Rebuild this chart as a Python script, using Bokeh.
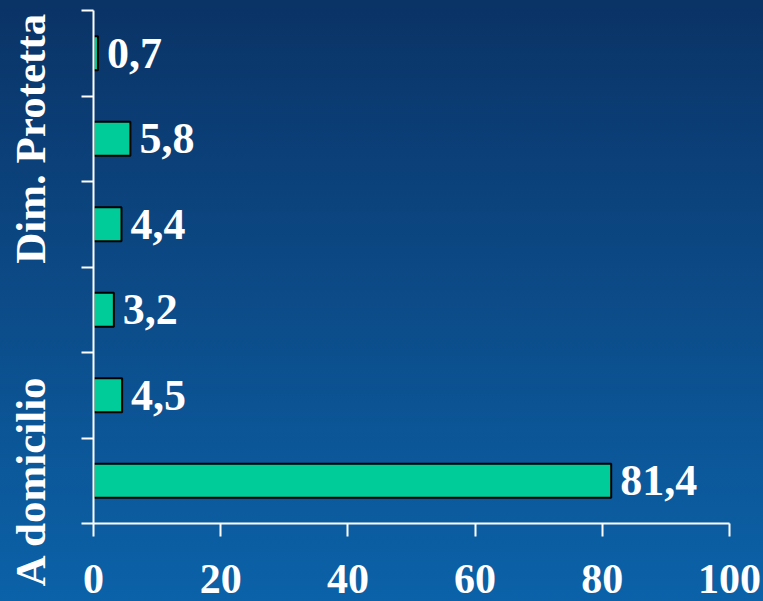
from bokeh.plotting import figure
from bokeh.models import Range1d, FixedTicker, ColumnDataSource
from bokeh.core.properties import value
from bokeh.embed import file_html
from bokeh.resources import INLINE

# Data (bottom to top)
categories = ["A domicilio", "", "", "", "Dim. Protetta", ""]
values = [81.4, 4.5, 3.2, 4.4, 5.8, 0.7]
value_labels = ["81,4", "4,5", "3,2", "4,4", "5,8", "0,7"]
x_ticks = [0, 20, 40, 60, 80, 100]

positions = [i + 0.5 for i in range(len(values))]

FONT = "Liberation Serif"

p = figure(width=763, height=601, output_backend="svg", toolbar_location=None,
           x_range=Range1d(0, 100), y_range=Range1d(0, len(values)),
           min_border_left=93, min_border_right=34, min_border_top=10, min_border_bottom=78)

p.background_fill_alpha = 0
p.border_fill_alpha = 0
p.outline_line_color = None
p.styles = {"background": "linear-gradient(180deg, #0a3366 0%, #0c4b88 50%, #0b62a8 100%)"}
p.xgrid.grid_line_color = None
p.ygrid.grid_line_color = None

src = ColumnDataSource(dict(y=positions, right=values, lab=value_labels))
p.hbar(y="y", right="right", left=0, height=0.4, source=src,
       fill_color="#00CC99", line_color="black", line_width=2)
p.text(x="right", y="y", text="lab", source=src, x_offset=9,
       text_baseline="middle", text_align="left", text_color="white",
       text_font=value(FONT), text_font_style="bold", text_font_size="44px")

# x axis
xa = p.xaxis[0]
xa.ticker = FixedTicker(ticks=x_ticks, minor_ticks=[])
xa.axis_line_color = "white"
xa.axis_line_width = 2
xa.major_tick_line_color = "white"
xa.major_tick_line_width = 2
xa.major_tick_out = 13
xa.major_tick_in = 0
xa.minor_tick_line_color = None
xa.major_label_standoff = 28
xa.major_label_text_color = "white"
xa.major_label_text_font = FONT
xa.major_label_text_font_style = "bold"
xa.major_label_text_font_size = "42px"

# y axis
ya = p.yaxis[0]
ya.ticker = FixedTicker(ticks=positions, minor_ticks=list(range(len(values) + 1)))
ya.major_label_overrides = {pos: lab for pos, lab in zip(positions, categories)}
ya.axis_line_color = "white"
ya.axis_line_width = 2
ya.major_tick_line_color = None
ya.major_tick_out = 0
ya.major_tick_in = 0
ya.minor_tick_line_color = "white"
ya.minor_tick_line_width = 2
ya.minor_tick_out = 12
ya.minor_tick_in = 0
ya.major_label_orientation = "vertical"
ya.major_label_standoff = 28
ya.major_label_text_color = "white"
ya.major_label_text_font = FONT
ya.major_label_text_font_style = "bold"
ya.major_label_text_font_size = "43px"

open("out.html", "w").write(file_html(p, INLINE))
